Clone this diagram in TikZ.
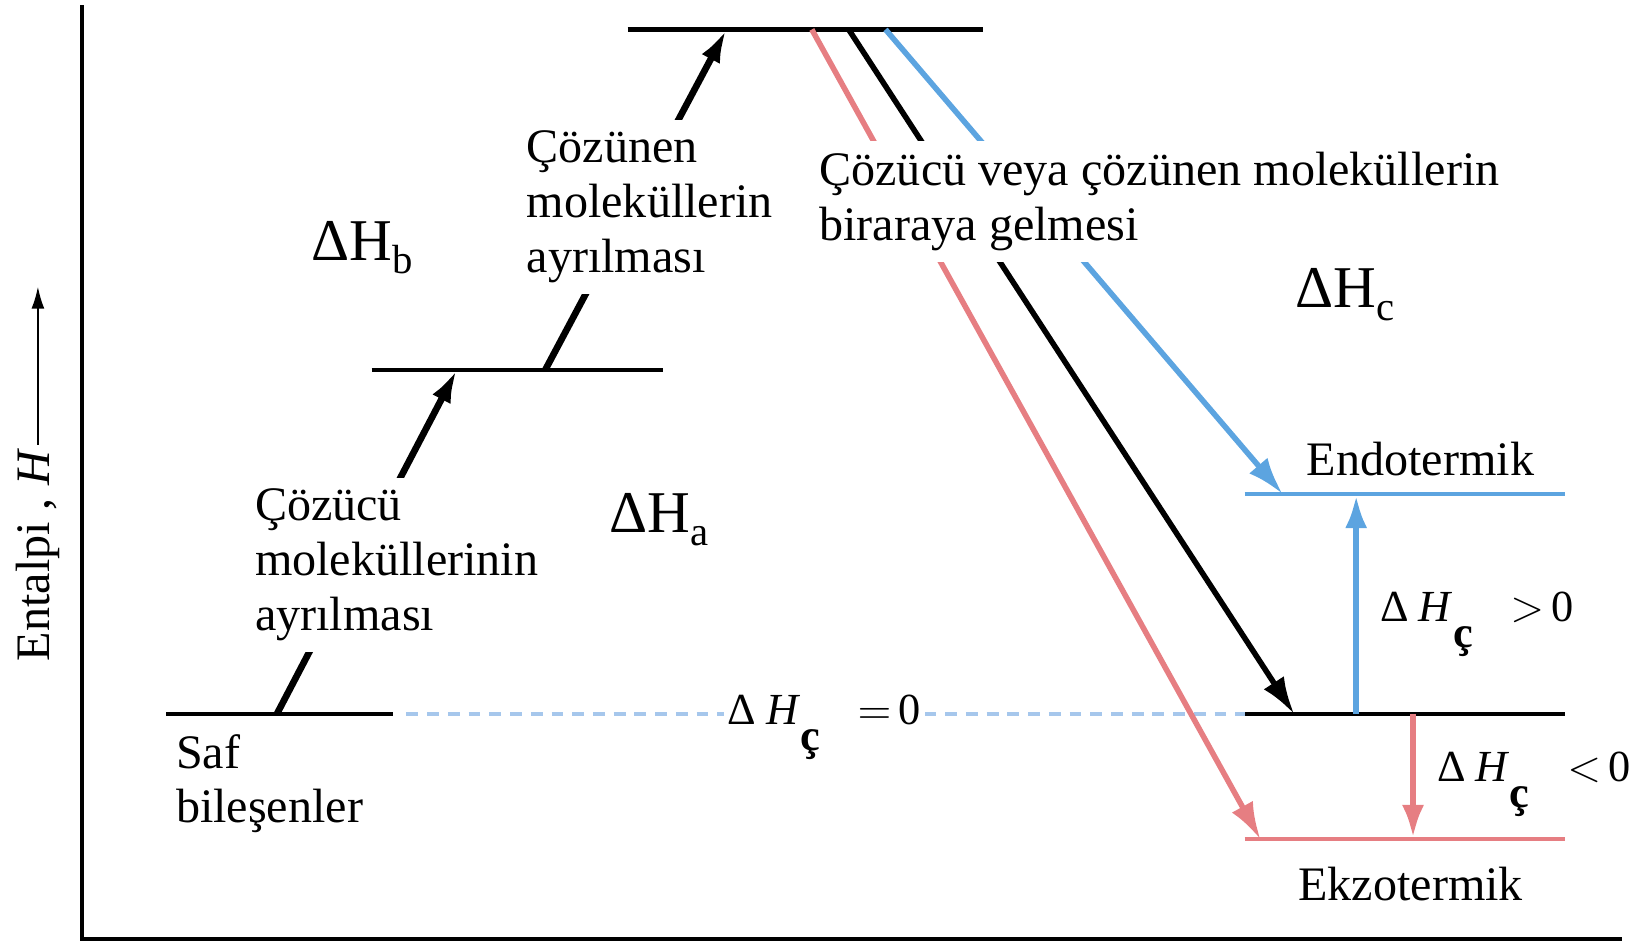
\documentclass[tikz,border=0pt]{standalone}
\usepackage{fontspec}
\setmainfont{Liberation Serif}
\usetikzlibrary{arrows.meta}
\definecolor{endoblue}{RGB}{92,164,224}
\definecolor{exored}{RGB}{230,126,130}
\definecolor{zeroblue}{RGB}{166,199,236}
\newcommand{\dHsub}[1]{ΔH\raisebox{-3.5pt}{\fontsize{11}{11}\selectfont #1}}
\newcommand{\dHcc}{Δ\hspace{0.22em}\textit{H}\raisebox{-7pt}{\textbf{ç}}}

\begin{document}
\begin{tikzpicture}[x=0.1mm, y=-0.1mm,
    enlevel/.style={line width=1.1pt},
    upstep/.style={line width=1.8pt, -{Latex[length=9pt,width=5.5pt]}},
    fall/.style={line width=1.5pt, -{Latex[length=10pt,width=6.5pt]}},
    jump/.style={line width=1.7pt, -{Latex[length=9pt,width=6pt]}},
    words/.style={font=\fontsize{13}{14.8}\selectfont, align=left, anchor=north west, inner sep=3pt},
    gap/.style={fill=white},
    dhbig/.style={font=\fontsize{16}{18}\selectfont, anchor=base west, inner sep=0pt},
    dhsmall/.style={font=\fontsize{12}{14}\selectfont, anchor=base west, inner sep=1pt}]
  \useasboundingbox (0,0) rectangle (1568,897);
  % Axes
  \draw[line width=1.2pt] (78,5) -- (78,892) -- (1540,892);
  \node[rotate=90, anchor=base west, inner sep=1pt, font=\fontsize{13}{15}\selectfont] (yaxis) at (47,632) {Entalpi , \textit{H}};
  \coordinate (ytip) at (36,272);
  \draw[line width=0.6pt, -{Latex[length=6pt,width=3.5pt]}] (yaxis.east) -- (yaxis.east |- ytip);
  % Energy levels
  \draw[enlevel] (158,678) coordinate (safL) -- (373,678) coordinate (safR);
  \draw[enlevel] (353,351) -- (630,351);
  \draw[enlevel] (596,28) -- (934,28);
  \draw[enlevel] (1182,678) coordinate (solL) -- (1486,678);
  \draw[enlevel, endoblue] (1182,469) -- (1486,469);
  \draw[enlevel, exored] (1182,797) -- (1486,797);
  % Attachment points
  \coordinate (a0) at (263,678);  \coordinate (a1) at (434,351);
  \coordinate (b0) at (518,351);  \coordinate (b1) at (690,28);
  \coordinate (r0) at (771,28);   \coordinate (r1) at (1197,797);
  \coordinate (k0) at (806,28);   \coordinate (k1) at (1229,678);
  \coordinate (u0) at (841,28);   \coordinate (u1) at (1218,469);
  \coordinate (p0) at (1288,678); \coordinate (p1) at (1288,470);
  \coordinate (n0) at (1342,678); \coordinate (n1) at (1342,796);
  % Zero line
  \draw[zeroblue, line width=1pt, dash pattern=on 3.2pt off 2.4pt] ([xshift=3.7pt]safR) -- (solL);
  % Separation steps
  \draw[upstep] (a0) -- (a1);
  \draw[upstep] (b0) -- (b1);
  % Mixing
  \draw[fall, exored] (r0) -- (r1);
  \draw[fall] (k0) -- (k1);
  \draw[fall, endoblue] (u0) -- (u1);
  % Net enthalpy change
  \draw[jump, endoblue] (p0) -- (p1);
  \draw[jump, exored] (n0) -- (n1);
  % Labels
  \node[words, gap] (solv) at (231,453) {Çözücü\\moleküllerinin\\ayrılması};
  \node[words, gap] (solu) at (489,113) {Çözünen\\moleküllerin\\ayrılması};
  \node[words, gap] (mix) at (767,133) {Çözücü veya çözünen moleküllerin\\biraraya gelmesi};
  \node[words] (pure) at (156,686) {Saf\\bileşenler};
  \node[words, anchor=base west] (endo) at (1230,452) {Endotermik};
  \node[words, anchor=base west] (exo) at (1222,855) {Ekzotermik};
  \node[dhbig] (dHb) at (295,247) {\dHsub{b}};
  \node[dhbig] (dHa) at (578,506) {\dHsub{a}};
  \node[dhbig] (dHc) at (1230,292) {\dHsub{c}};
  \node[dhsmall, gap] (dzero) at (687,688) {\dHcc\hspace{0.85em}$=$\hspace{2pt}0};
  \node[dhsmall] (dpos) at (1307,590) {\dHcc\hspace{0.85em}$>$\hspace{2pt}0};
  \node[dhsmall] (dneg) at (1361,742) {\dHcc\hspace{0.85em}$<$\hspace{2pt}0};
\end{tikzpicture}
\end{document}
